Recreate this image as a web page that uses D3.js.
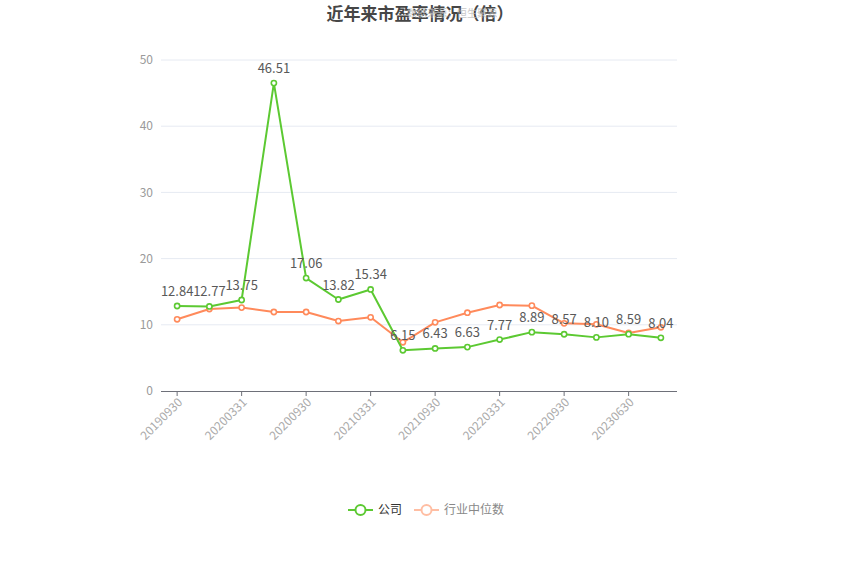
<!DOCTYPE html>
<html><head><meta charset="utf-8">
<script src="https://cdn.jsdelivr.net/npm/d3@7"></script>
<style>
html,body{margin:0;padding:0;background:#fff;}
svg{display:block;font-family:"Noto Sans CJK SC","Microsoft YaHei",sans-serif;}
</style></head>
<body><svg id="c" width="850" height="574"></svg>
<script>
const categories = ["20190930","20191231","20200331","20200630","20200930","20201231","20210331","20210630","20210930","20211231","20220331","20220630","20220930","20221231","20230630","20230930"];
const companyPE = [12.84,12.77,13.75,46.51,17.06,13.82,15.34,6.15,6.43,6.63,7.77,8.89,8.57,8.10,8.59,8.04];
const industryPE = [10.83,12.39,12.6,11.93,11.93,10.57,11.13,7.36,10.37,11.83,12.99,12.89,10.22,10.07,8.76,9.62];
const yTicks = [0,10,20,30,40,50];
const seriesNames = ["公司","行业中位数"];
const titleText = "近年来市盈率情况（倍）";

const svg = d3.select("#c");
const green = "#5cc932", orange = "#ff8a5b";
const x = d3.scaleBand().domain(categories).range([161,677]);
const y = d3.scaleLinear().domain([0,50]).range([391,60]);
const cx = d => x(d) + x.bandwidth()/2;

// grid
svg.append("g").selectAll("line").data(yTicks.filter(t=>t>0)).join("line")
  .attr("x1",161).attr("x2",677).attr("y1",d=>y(d)).attr("y2",d=>y(d))
  .attr("stroke","#e6eaf2").attr("stroke-width",1);

// y labels
svg.append("g").selectAll("text").data(yTicks).join("text")
  .attr("x",153).attr("y",d=>y(d)).attr("dy","0.35em").attr("text-anchor","end")
  .attr("fill","#9a9a9a").attr("font-size",12).text(d=>d);

// x axis
svg.append("line").attr("x1",161).attr("x2",677).attr("y1",391.5).attr("y2",391.5)
  .attr("stroke","#6e7079").attr("stroke-width",1);
const shown = categories.filter((d,i)=>i%2===0);
svg.append("g").selectAll("line").data(shown).join("line")
  .attr("x1",d=>cx(d)).attr("x2",d=>cx(d)).attr("y1",391).attr("y2",396)
  .attr("stroke","#6e7079");
svg.append("g").selectAll("text").data(shown).join("text")
  .attr("transform",d=>`translate(${cx(d)+3},${400}) rotate(-45)`)
  .attr("text-anchor","end").attr("dy","0.35em")
  .attr("fill","#aaaaaa").attr("font-size",12).text(d=>d);

const line = d3.line().x((d,i)=>cx(categories[i])).y(d=>y(d));
function drawSeries(data,color){
  svg.append("path").datum(data).attr("d",line).attr("fill","none")
    .attr("stroke",color).attr("stroke-width",2).attr("stroke-linejoin","round");
  svg.append("g").selectAll("circle").data(data).join("circle")
    .attr("cx",(d,i)=>cx(categories[i])).attr("cy",d=>y(d)).attr("r",2.6)
    .attr("fill","#fff").attr("stroke",color).attr("stroke-width",1.6);
}
drawSeries(industryPE,orange);
drawSeries(companyPE,green);

// value labels
svg.append("g").selectAll("text").data(companyPE).join("text")
  .attr("x",(d,i)=>cx(categories[i])).attr("y",d=>y(d)-10)
  .attr("text-anchor","middle").attr("fill","#595959").attr("font-size",13)
  .text(d=>d.toFixed(2));

// title
svg.append("text").attr("x",420).attr("y",20).attr("text-anchor","middle")
  .attr("font-size",17).attr("font-weight","bold").attr("fill","#464646").text(titleText);
svg.append("text").attr("x",452).attr("y",17).attr("text-anchor","middle")
  .attr("font-size",10).attr("fill","#bbbbbb").attr("opacity",0.8).text("数据来源：恒生聚源");

// legend
const legend = [{name:seriesNames[0],color:green,text:"#333",x:348},{name:seriesNames[1],color:"#ffbea3",text:"#888",x:414}];
const lg = svg.append("g").selectAll("g").data(legend).join("g").attr("transform",d=>`translate(${d.x},510)`);
lg.append("line").attr("x1",0).attr("x2",25).attr("y1",0).attr("y2",0).attr("stroke",d=>d.color).attr("stroke-width",2);
lg.append("circle").attr("cx",12.5).attr("cy",0).attr("r",5).attr("fill","#fff").attr("stroke",d=>d.color).attr("stroke-width",2);
lg.append("text").attr("x",30).attr("y",0).attr("dy","0.35em").attr("font-size",12).attr("fill",d=>d.text).text(d=>d.name);
</script></body></html>
